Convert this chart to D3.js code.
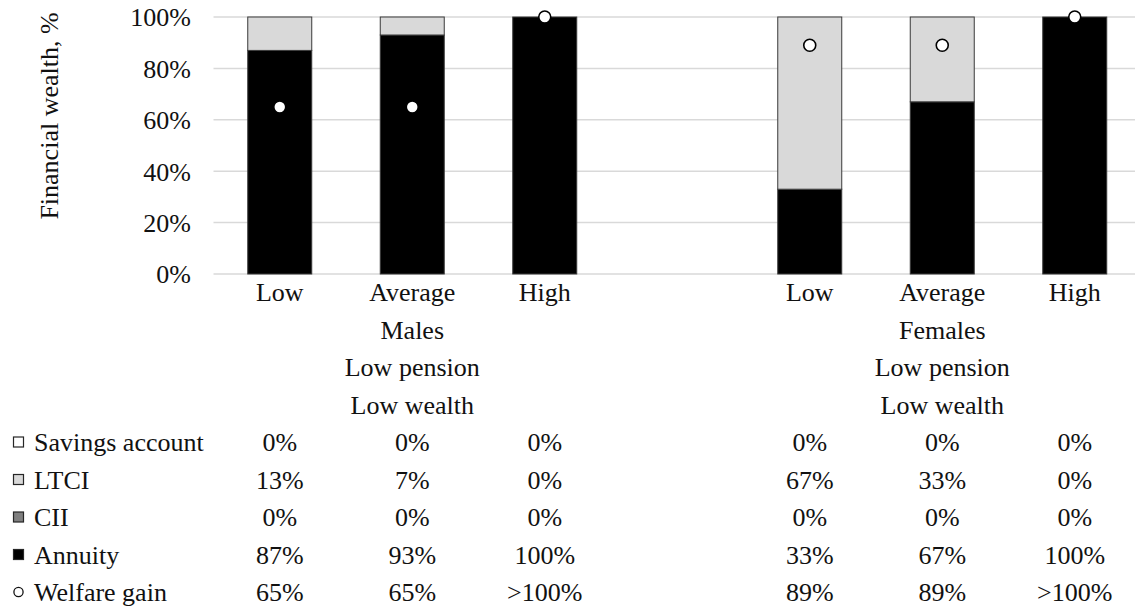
<!DOCTYPE html>
<html>
<head>
<meta charset="utf-8">
<script src="https://cdn.jsdelivr.net/npm/d3@7"></script>
<style>
  html, body { margin: 0; padding: 0; background: #fff; }
  svg { display: block; }
</style>
</head>
<body>
<svg id="chart" width="1135" height="611"></svg>
<script>
// Portfolio shares by longevity group (Males then Females)
const levels = ["Low", "Average", "High"];
const groups = ["Males", "Females"];
const groupSubLabels = ["Low pension", "Low wealth"];

const savings = [0, 0, 0, 0, 0, 0];
const ltci    = [13, 7, 0, 67, 33, 0];
const cii     = [0, 0, 0, 0, 0, 0];
const annuity = [87, 93, 100, 33, 67, 100];
// welfare gain: plotted value (capped at 100) and the text shown in the table
const welfare       = [65, 65, 100, 89, 89, 100];
const welfareLabels = ["65%", "65%", ">100%", "89%", "89%", ">100%"];

const yTicks = [0, 20, 40, 60, 80, 100];

const seriesInfo = [
  { key: "savings", name: "Savings account", fill: "#ffffff", values: savings },
  { key: "ltci",    name: "LTCI",            fill: "#d9d9d9", values: ltci },
  { key: "cii",     name: "CII",             fill: "#7f7f7f", values: cii },
  { key: "annuity", name: "Annuity",         fill: "#000000", values: annuity }
];

const FS = 26;
const lineStep = 37.5;

// slot ids: three per group plus an empty spacer between the groups
const slots = [];
groups.forEach((g, gi) => {
  if (gi > 0) slots.push("gap" + gi);
  levels.forEach(l => slots.push(g + "|" + l));
});
const rows = [];
groups.forEach((g, gi) => levels.forEach((l, li) => {
  const i = gi * levels.length + li;
  rows.push({
    slot: g + "|" + l, level: l, group: g,
    savings: savings[i], ltci: ltci[i], cii: cii[i], annuity: annuity[i],
    welfare: welfare[i], welfareLabel: welfareLabels[i]
  });
}));

const svg = d3.select("#chart");
const x = d3.scaleBand().domain(slots).range([213.5, 1141]).paddingInner(0.517).paddingOuter(0.2585);
const y = d3.scaleLinear().domain([0, 100]).range([274, 17]);
const cx = s => x(s) + x.bandwidth() / 2;

// gridlines
svg.append("g")
  .selectAll("line").data(yTicks).join("line")
  .attr("x1", 213.5).attr("x2", 1135)
  .attr("y1", d => y(d)).attr("y2", d => y(d))
  .attr("stroke", "#d9d9d9").attr("stroke-width", 1.5);

// stacked bars, annuity at the bottom
const stackKeys = ["annuity", "cii", "ltci", "savings"];
const stacked = d3.stack().keys(stackKeys)(rows);
const fillOf = Object.fromEntries(seriesInfo.map(s => [s.key, s.fill]));

svg.append("g").selectAll("g").data(stacked).join("g")
  .attr("fill", d => fillOf[d.key])
  .selectAll("rect")
  .data(d => d.filter(p => p[1] - p[0] > 0))
  .join("rect")
  .attr("x", p => x(p.data.slot))
  .attr("width", x.bandwidth())
  .attr("y", p => y(p[1]))
  .attr("height", p => y(p[0]) - y(p[1]))
  .attr("stroke", "#3a3a3a")
  .attr("stroke-width", 1);

// welfare gain markers
svg.append("g").selectAll("circle").data(rows).join("circle")
  .attr("cx", d => cx(d.slot))
  .attr("cy", d => y(d.welfare))
  .attr("r", 6)
  .attr("fill", "#fff")
  .attr("stroke", "#000")
  .attr("stroke-width", 1.6);

// all text lives in one serif group
const T = svg.append("g")
  .style("font-family", "'Liberation Serif'")
  .attr("font-size", 26)
  .attr("fill", "#111");

// y axis tick labels
const yAxis = d3.axisLeft(y).tickValues(yTicks).tickFormat(d => d + "%").tickSize(0).tickPadding(0);
const yg = T.append("g").attr("transform", "translate(191,0)").call(yAxis);
yg.attr("font-family", null).attr("font-size", null);
yg.select(".domain").remove();
yg.selectAll("text").attr("fill", "#111").attr("dy", "0.34em");

// y axis title
T.append("text")
  .attr("transform", "translate(58,116) rotate(-90)")
  .attr("text-anchor", "middle")
  .text("Financial wealth, %");

// category labels (three levels)
const baseY = 301;
T.append("g").selectAll("text").data(rows).join("text")
  .attr("x", d => cx(d.slot)).attr("y", baseY)
  .attr("text-anchor", "middle")
  .text(d => d.level);

groups.forEach(g => {
  const mid = cx(g + "|" + levels[1]);
  [g, ...groupSubLabels].forEach((t, k) => {
    T.append("text")
      .attr("x", mid).attr("y", baseY + lineStep * (k + 1))
      .attr("text-anchor", "middle")
      .text(t);
  });
});

// data table under the chart
const tableTop = baseY + lineStep * 4;
const tableRows = [
  ...seriesInfo.map(s => ({ name: s.name, marker: "rect", fill: s.fill, cells: s.values.map(v => v + "%") })),
  { name: "Welfare gain", marker: "circle", fill: "#fff", cells: welfareLabels }
];

tableRows.forEach((r, ri) => {
  const by = tableTop + ri * lineStep;
  const g = T.append("g");
  if (r.marker === "rect") {
    g.append("rect")
      .attr("x", 13.5).attr("y", by - 14).attr("width", 10).attr("height", 10)
      .attr("fill", r.fill).attr("stroke", "#262626").attr("stroke-width", 1.2);
  } else {
    g.append("circle")
      .attr("cx", 18.5).attr("cy", by - 9).attr("r", 4.6)
      .attr("fill", "#fff").attr("stroke", "#111").attr("stroke-width", 1.3);
  }
  g.append("text").attr("x", 34).attr("y", by).text(r.name);
  g.selectAll("text.cell").data(rows).join("text")
    .attr("class", "cell")
    .attr("x", d => cx(d.slot)).attr("y", by)
    .attr("text-anchor", "middle")
    .text((d, i) => r.cells[i]);
});
</script>
</body>
</html>
